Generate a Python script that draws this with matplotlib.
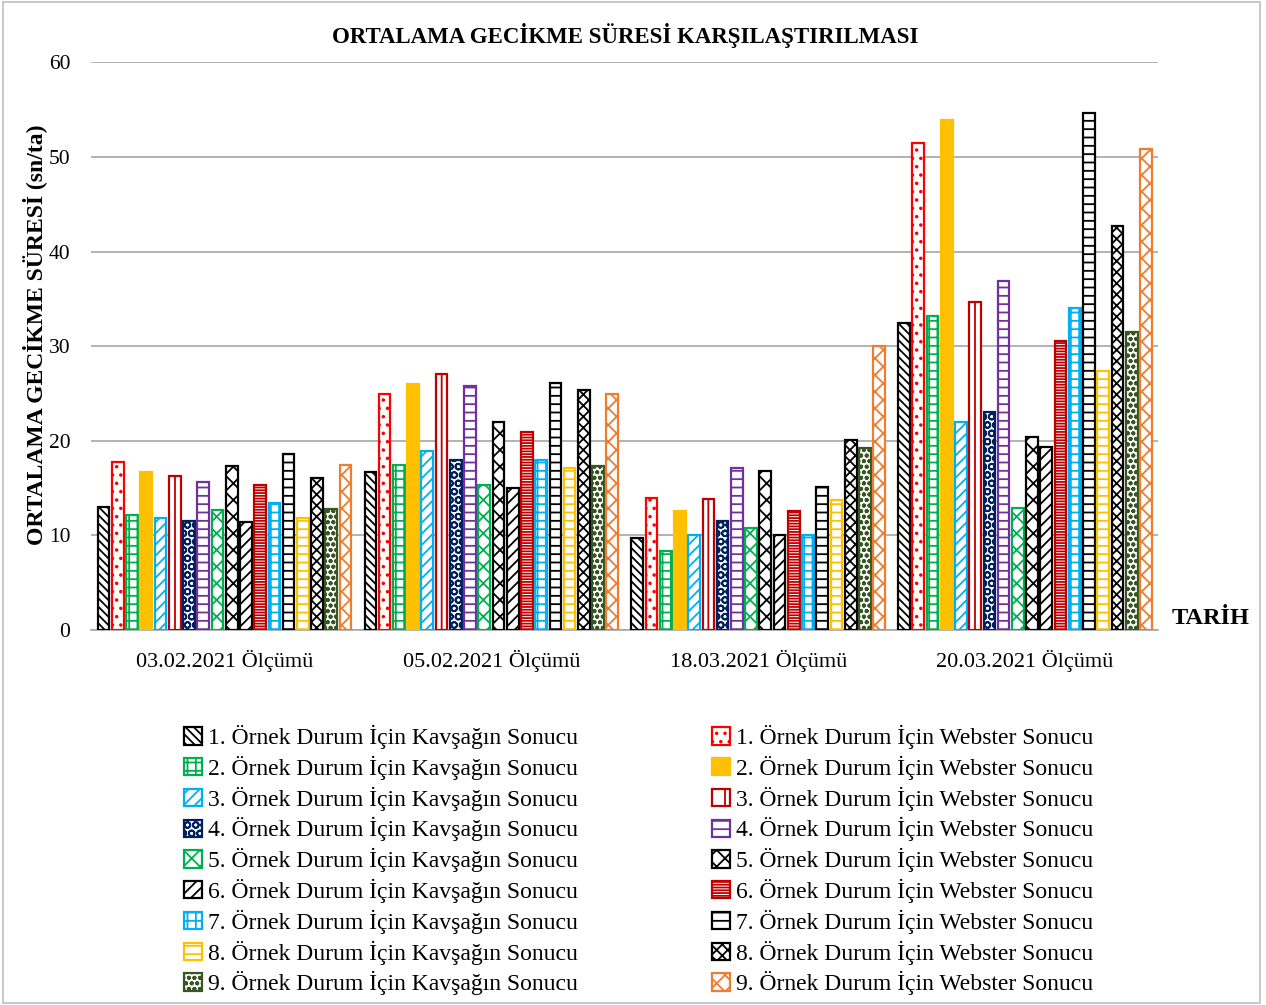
import numpy as np
import matplotlib.pyplot as plt
from matplotlib.patches import Rectangle

plt.rcParams['font.family'] = ['Liberation Serif', 'DejaVu Serif']
plt.rcParams['hatch.linewidth'] = 1.3

# Veriler
tarihler = ['03.02.2021 Ölçümü', '05.02.2021 Ölçümü', '18.03.2021 Ölçümü', '20.03.2021 Ölçümü']

kavsak = [
    [13.0, 16.7, 9.7, 32.5],
    [12.2, 17.4, 8.4, 33.2],
    [11.9, 18.9, 10.1, 22.0],
    [11.5, 18.0, 11.5, 23.1],
    [12.7, 15.3, 10.8, 12.9],
    [11.4, 15.0, 10.1, 19.3],
    [13.4, 18.0, 10.0, 34.0],
    [11.8, 17.1, 13.7, 27.4],
    [12.8, 17.3, 19.2, 31.5],
]
webster = [
    [17.8, 25.0, 14.0, 51.5],
    [16.7, 26.0, 12.6, 53.9],
    [16.3, 27.1, 13.9, 34.7],
    [15.7, 25.8, 17.1, 36.9],
    [17.3, 22.0, 16.8, 20.4],
    [15.3, 20.9, 12.6, 30.6],
    [18.6, 26.1, 15.1, 54.6],
    [16.1, 25.4, 20.1, 42.7],
    [17.4, 25.0, 30.0, 50.8],
]

# Stiller (renk, desen, dolgu)
kavsak_stil = [
    ('black', '\\\\\\\\', 'white'),
    ('#00B050', '++', 'white'),
    ('#00B0F0', '///', 'white'),
    ('#002060', 'OO', 'white'),
    ('#00B050', 'xx', 'white'),
    ('black', '///', 'white'),
    ('#00B0F0', '++', 'white'),
    ('#FFC000', '--', 'white'),
    ('#375623', 'ooo', 'white'),
]
webster_stil = [
    ('#FF0000', '..', 'white'),
    ('#FFC000', None, '#FFC000'),
    ('#C00000', '|', 'white'),
    ('#7030A0', '--', 'white'),
    ('black', 'xx', 'white'),
    ('#C00000', '------', 'white'),
    ('black', '--', 'white'),
    ('black', 'xxx', 'white'),
    ('#ED7D31', 'xx', 'white'),
]

fig = plt.figure(figsize=(12.66, 10.05), dpi=100)
ax = fig.add_axes([0.072, 0.373, 0.843, 0.565])

x = np.arange(len(tarihler))
slot = 0.96 / 18
width = slot * 0.82

h_k, h_w = [], []
for i in range(9):
    for j, (vals, stil, liste, tur) in enumerate([(kavsak[i], kavsak_stil[i], h_k, 'Kavşağın'),
                                                  (webster[i], webster_stil[i], h_w, 'Webster')]):
        idx = 2 * i + j
        pos = x - 0.48 + slot * (idx + 0.5)
        renk, desen, dolgu = stil
        b = ax.bar(pos, vals, width, facecolor=dolgu, edgecolor=renk, hatch=desen,
                   linewidth=1.6, label=f'{i + 1}. Örnek Durum İçin {tur} Sonucu', zorder=3)
        liste.append(b)

ax.set_ylim(0, 60)
ax.set_xlim(-0.5, 3.5)
ax.set_yticks(range(0, 61, 10))
ax.set_xticks(x)
ax.set_xticklabels(tarihler, fontsize=16)
ax.tick_params(axis='y', labelsize=15.5, length=0, pad=15)
ax.tick_params(axis='x', length=0, pad=14)
ax.grid(axis='y', color='#A6A6A6', linewidth=1.2, zorder=0)
for s in ['top', 'right', 'left']:
    ax.spines[s].set_visible(False)
ax.spines['bottom'].set_color('#A6A6A6')
ax.spines['bottom'].set_linewidth(1.2)

ax.set_title('ORTALAMA GECİKME SÜRESİ KARŞILAŞTIRILMASI', fontsize=16.5, fontweight='bold', pad=14)
ax.set_ylabel('ORTALAMA GECİKME SÜRESİ (sn/ta)', fontsize=17, fontweight='bold')
ax.yaxis.set_label_coords(-0.041, 0.52)
ax.text(1.012, 0.02, 'TARİH', transform=ax.transAxes, fontsize=17.5, fontweight='bold',
        ha='left', va='center')

handles = h_k + h_w
labels = [h.get_label() for h in handles]
fig.legend(handles, labels, ncol=2, loc='upper left', bbox_to_anchor=(0.138, 0.288),
           frameon=False, fontsize=17, handlelength=0.75, handleheight=0.75,
           handletextpad=0.25, columnspacing=5.7, labelspacing=0.28, borderaxespad=0)

fig.patches.append(Rectangle((0.002, 0.002), 0.993, 0.996, transform=fig.transFigure,
                             fill=False, edgecolor='#BFBFBF', linewidth=1.2))

fig.savefig('out.png', dpi=100)
